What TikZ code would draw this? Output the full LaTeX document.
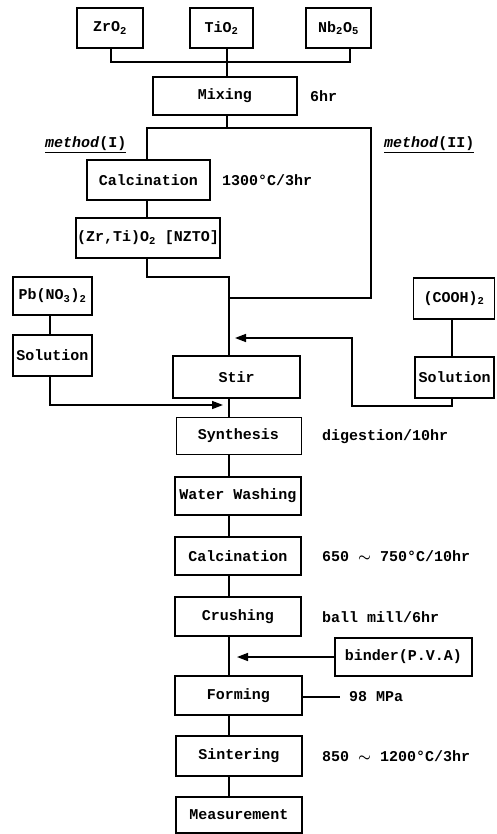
\documentclass[tikz,border=0pt]{standalone}
\usepackage{fontspec}
\setmainfont{Liberation Mono}
\usetikzlibrary{arrows.meta}
\begin{document}
\begin{tikzpicture}[x=1pt,y=-1pt,
  font=\bfseries\fontsize{15}{18}\selectfont,
  box/.style={draw, line width=1.5pt, inner sep=0pt, align=center},
  thinbox/.style={draw, line width=0.7pt, inner sep=0pt, align=center},
  wire/.style={line width=1.5pt},
  tip/.style={-{Triangle[length=11pt,width=8pt]}},
  note/.style={anchor=west, inner sep=0pt}]
\useasboundingbox (0,0) rectangle (496,834);

% x positions of vertical connectors
\coordinate (xZ) at (111,0);
\coordinate (xT) at (227,0);
\coordinate (xN) at (350,0);
\coordinate (xM) at (229,0);
\coordinate (xL) at (147,0);
\coordinate (xR) at (371,0);
\coordinate (xP) at (50,0);
\coordinate (xC) at (452,0);
\coordinate (xB) at (352,0);
% y positions of horizontal connectors
\coordinate (yTop) at (0,62);
\coordinate (ySplit) at (0,128);
\coordinate (yJL) at (0,277);
\coordinate (yJR) at (0,298);
\coordinate (yPb) at (0,405);
\coordinate (yC1) at (0,406);
\coordinate (yC2) at (0,338);
% free ends of arrows
\coordinate (tipL) at (223,405);
\coordinate (tipR) at (235,338);
\coordinate (tipB) at (237,657);
\coordinate (mpaEnd) at (340,697);

% boxes
\node[box, minimum width=66pt, minimum height=40pt] (zr) at (110,28) {ZrO\textsubscript{2}};
\node[box, minimum width=63pt, minimum height=40pt] (ti) at (221.5,28) {TiO\textsubscript{2}};
\node[box, minimum width=65pt, minimum height=40pt] (nb) at (338.5,28) {Nb\textsubscript{2}O\textsubscript{5}};
\node[box, minimum width=144pt, minimum height=38pt] (mix) at (225,96) {Mixing};
\node[box, minimum width=123pt, minimum height=40pt] (calc1) at (148.5,180) {Calcination};
\node[box, minimum width=144pt, minimum height=40pt] (nzto) at (148,238) {(Zr,Ti)O\textsubscript{2} [NZTO]};
\node[box, minimum width=79pt, minimum height=38pt] (pb) at (52.5,296) {Pb(NO\textsubscript{3})\textsubscript{2}};
\node[box, minimum width=79pt, minimum height=41pt] (solL) at (52.5,355.5) {Solution};
\node[box, minimum width=81pt, minimum height=41pt] (cooh) at (454,298.5) {(COOH)\textsubscript{2}};
\node[box, minimum width=79pt, minimum height=41pt] (solR) at (454.5,377.5) {Solution};
\node[box, minimum width=127pt, minimum height=42pt] (stir) at (236.5,377) {Stir};
\node[thinbox, minimum width=125pt, minimum height=37pt] (syn) at (238.5,435.5) {Synthesis};
\node[box, minimum width=126pt, minimum height=38pt] (wash) at (238,496) {Water Washing};
\node[box, minimum width=126pt, minimum height=38pt] (calc2) at (238,556) {Calcination};
\node[box, minimum width=126pt, minimum height=39pt] (crush) at (238,616.5) {Crushing};
\node[box, minimum width=137pt, minimum height=38pt] (bind) at (403.5,657) {binder(P.V.A)};
\node[box, minimum width=127pt, minimum height=39pt] (form) at (238.5,695.5) {Forming};
\node[box, minimum width=126pt, minimum height=40pt] (sint) at (239,756) {Sintering};
\node[box, minimum width=126pt, minimum height=36pt] (meas) at (239,815) {Measurement};

% annotations
\node[note] (t6hr) at (310,96) {6hr};
\node[note] (mI) at (45,145) {\underline{\textit{method}(I)}};
\node[note] (mII) at (384,145) {\underline{\textit{method}(II)}};
\node[note] (t1300) at (222,180) {1300°C/3hr};
\node[note] (tdig) at (322,437) {digestion/10hr};
\node[note] (t650) at (322,556) {650 {\boldmath$\sim$} 750°C/10hr};
\node[note] (tball) at (322,617) {ball mill/6hr};
\node[note] (tmpa) at (349,697) {98 MPa};
\node[note] (t850) at (322,756) {850 {\boldmath$\sim$} 1200°C/3hr};

% connectors
\draw[wire] (zr.south -| xZ) -- (xZ |- yTop) -- (xN |- yTop) -- (nb.south -| xN);
\draw[wire] (ti.south -| xT) -- (mix.north -| xT);
\draw[wire] (mix.south -| xT) -- (xT |- ySplit);
\draw[wire] (calc1.north -| xL) -- (xL |- ySplit) -- (xR |- ySplit) -- (xR |- yJR) -- (xM |- yJR);
\draw[wire] (calc1.south -| xL) -- (nzto.north -| xL);
\draw[wire] (nzto.south -| xL) -- (xL |- yJL) -- (xM |- yJL) -- (stir.north -| xM);
\draw[wire] (pb.south -| xP) -- (solL.north -| xP);
\draw[wire,tip] (solL.south -| xP) -- (xP |- yPb) -- (tipL);
\draw[wire] (cooh.south -| xC) -- (solR.north -| xC);
\draw[wire,tip] (solR.south -| xC) -- (xC |- yC1) -- (xB |- yC1) -- (xB |- yC2) -- (tipR);
\draw[wire] (stir.south -| xM) -- (syn.north -| xM);
\draw[wire] (syn.south -| xM) -- (wash.north -| xM);
\draw[wire] (wash.south -| xM) -- (calc2.north -| xM);
\draw[wire] (calc2.south -| xM) -- (crush.north -| xM);
\draw[wire] (crush.south -| xM) -- (form.north -| xM);
\draw[wire,tip] (bind.west) -- (tipB);
\draw[wire] (form.east |- mpaEnd) -- (mpaEnd);
\draw[wire] (form.south -| xM) -- (sint.north -| xM);
\draw[wire] (sint.south -| xM) -- (meas.north -| xM);
\end{tikzpicture}
\end{document}
